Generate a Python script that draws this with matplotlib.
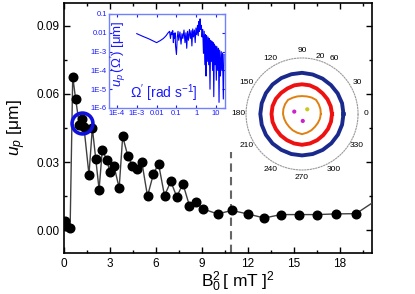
import matplotlib
matplotlib.use("Agg")
import matplotlib.pyplot as plt
import numpy as np
from matplotlib.ticker import MultipleLocator, FixedLocator, NullLocator

plt.rcParams["font.family"] = ["Liberation Sans", "DejaVu Sans"]
plt.rcParams["mathtext.fontset"] = "custom"
plt.rcParams["mathtext.rm"] = "Liberation Sans"
plt.rcParams["mathtext.it"] = "Liberation Sans:italic"

# main series: u_p vs B0^2
b2 = [0.05, 0.15, 0.4, 0.57, 0.76, 1.0, 1.15, 1.3, 1.63, 1.85, 2.07, 2.29, 2.5,
      2.79, 3.0, 3.27, 3.6, 3.83, 4.16, 4.47, 4.77, 5.08, 5.45, 5.84, 6.17,
      6.56, 6.97, 7.36, 7.76, 8.19, 8.63, 9.06, 10.02, 10.96, 11.98, 13.07,
      14.16, 15.32, 16.5, 17.78, 19.06, 21.0]
u_p = [0.004, 0.002, 0.001, 0.0676, 0.0577, 0.0465, 0.049, 0.0455, 0.0245,
       0.045, 0.0315, 0.0179, 0.0354, 0.031, 0.0255, 0.0281, 0.0186, 0.0413,
       0.0328, 0.0284, 0.0271, 0.030, 0.015, 0.0249, 0.0292, 0.0152, 0.0215,
       0.0147, 0.0205, 0.0107, 0.0123, 0.0094, 0.0072, 0.0087, 0.0072, 0.0054,
       0.0069, 0.0069, 0.0069, 0.0072, 0.0073, 0.016]
threshold_b2 = 10.9
threshold_top = 0.0346

# inset spectrum
omega = [0.001, 0.002, 0.004, 0.007, 0.01, 0.015, 0.022, 0.03, 0.038, 0.045,
         0.05, 0.055, 0.06, 0.065, 0.07, 0.075, 0.08, 0.085, 0.09, 0.1, 0.11,
         0.12, 0.13, 0.15, 0.17, 0.19, 0.21, 0.24, 0.27, 0.3, 0.33, 0.36, 0.4,
         0.45, 0.5, 0.55, 0.6, 0.66, 0.72, 0.8, 0.88, 0.96, 1.05, 1.15, 1.25,
         1.35, 1.45, 1.55, 1.65, 1.8, 1.95, 2.1, 2.3, 2.5, 2.7, 2.9, 3.1, 3.3,
         3.6, 3.9, 4.2, 4.5, 4.9, 5.3, 5.7, 6.1, 6.6, 7.1, 7.6, 8.2, 8.8, 9.5,
         10.2, 11, 12, 13, 14, 15, 16.5, 18, 19.5, 21, 23, 25]
spec = [9e-3, 6.5e-3, 4.8e-3, 3.6e-3, 3e-3, 3.8e-3, 5e-3, 7e-3, 1e-2, 1.2e-2,
        5e-3, 1.1e-2, 8e-3, 1.3e-2, 3e-3, 9e-3, 5e-3, 1e-2, 2e-3, 7e-4, 6e-3,
        1.2e-2, 4e-3, 1.1e-2, 2.5e-3, 9e-3, 5e-3, 1.4e-2, 3e-3, 1e-2, 1.5e-3,
        1.2e-2, 4e-3, 1.5e-2, 5e-3, 1.3e-2, 2e-3, 1.6e-2, 6e-3, 1.4e-2, 3e-3,
        1.8e-2, 8e-3, 2.5e-2, 7e-3, 4e-2, 1.2e-2, 5.5e-2, 1.5e-2, 2.5e-2, 6e-3,
        1.5e-2, 8e-4, 1.2e-2, 2e-4, 8e-3, 5e-5, 7e-3, 3e-4, 6e-3, 2e-4, 5e-3,
        1e-5, 4e-3, 3e-4, 3.5e-3, 1e-4, 3e-3, 4e-6, 2.5e-3, 2e-4, 2e-3, 3e-5,
        1.8e-3, 1e-4, 1.5e-3, 2e-6, 1.2e-3, 5e-5, 1e-3, 1e-4, 8e-4, 3e-6, 7e-4]
omega_ticks = [1e-4, 1e-3, 1e-2, 1e-1, 1, 10]
omega_labels = ["1E-4", "1E-3", "0.01", "0.1", "1", "10"]
spec_ticks = [1e-6, 1e-5, 1e-4, 1e-3, 1e-2, 1e-1]
spec_labels = ["1E-6", "1E-5", "1E-4", "1E-3", "0.01", "0.1"]

# polar inset: orbits
theta_deg = [0, 15, 30, 45, 60, 75, 90, 105, 120, 135, 150, 165, 180, 195,
             210, 225, 240, 255, 270, 285, 300, 315, 330, 345]
r_navy = [14.8, 14.8, 14.7, 14.6, 14.6, 14.6, 14.7, 14.7, 14.8, 14.9, 14.9,
          14.9, 14.9, 14.9, 14.9, 14.9, 14.8, 14.8, 14.8, 14.8, 14.8, 14.8,
          14.8, 14.8]
r_red = [10.7, 10.6, 10.5, 10.4, 10.5, 10.6, 10.6, 10.6, 10.5, 10.6, 10.8,
         10.9, 10.9, 10.9, 10.8, 10.8, 10.8, 10.9, 11.0, 10.9, 10.8, 10.7,
         10.7, 10.7]
r_orange = [6.7, 6.8, 6.9, 7.1, 6.8, 6.5, 6.4, 6.5, 6.7, 7.1, 7.0, 6.9, 6.8,
            6.6, 6.5, 6.5, 6.7, 6.9, 7.2, 6.9, 6.7, 6.5, 6.5, 6.6]
dots_theta = [163, 276, 42]
dots_r = [2.9, 2.5, 2.5]
dots_color = ["#cc22cc", "#cc22cc", "#c8c820"]
polar_labels = ["0", "30", "60", "90", "120", "150", "180", "210", "240",
                "270", "300", "330"]

fig = plt.figure(figsize=(4.15, 2.94), dpi=100)
ax = fig.add_axes([0.1542, 0.1395, 0.7422, 0.8503])
ax.plot(b2, u_p, color="#404040", lw=1.0, marker="o", ms=6.2,
        mfc="black", mec="black", zorder=3)
ax.vlines(threshold_b2, -0.01, threshold_top, colors="#666666",
          linestyles=(0, (4, 2.5)), lw=1.5, zorder=2)

# blue ring around the cluster near B0^2 ~ 1
sel = [(x, y) for x, y in zip(b2, u_p) if 0.9 < x < 1.4]
cx = np.mean([s[0] for s in sel])
cy = np.mean([s[1] for s in sel])
ax.plot(cx, cy, marker="o", ms=15, mfc="none", mec="#1010dd", mew=2.6,
        zorder=4)

ax.set_xlim(0, 20.1)
ax.set_ylim(-0.01, 0.1)
ax.xaxis.set_major_locator(MultipleLocator(3))
ax.xaxis.set_minor_locator(MultipleLocator(1.5))
ax.yaxis.set_major_locator(FixedLocator([0, 0.03, 0.06, 0.09]))
ax.yaxis.set_minor_locator(MultipleLocator(0.015))
ax.set_yticklabels(["0.00", "0.03", "0.06", "0.09"])
ax.tick_params(which="both", direction="in", top=True, right=True,
               labelsize=8.5, width=1)
ax.tick_params(which="major", length=4)
ax.tick_params(which="minor", length=2.5)
for sp in ax.spines.values():
    sp.set_linewidth(1.2)
ax.set_ylabel(r"$u_p$ [μm]", fontsize=12.5, labelpad=6)
fig.text(238 / 415, 1 - 282 / 294, r"$\mathrm{B}_0^2\,[\ \mathrm{mT}\ ]^2$",
         fontsize=12.5, ha="center", va="center")

# spectrum inset
blue = "#1a1aff"
axi = fig.add_axes([0.2627, 0.6327, 0.2795, 0.3197])
axi.loglog(omega, spec, color="#0000ff", lw=0.8)
axi.set_xlim(4e-5, 28)
axi.set_ylim(1e-6, 0.1)
axi.xaxis.set_major_locator(FixedLocator(omega_ticks))
axi.xaxis.set_minor_locator(NullLocator())
axi.set_xticklabels(omega_labels)
axi.yaxis.set_major_locator(FixedLocator(spec_ticks))
axi.yaxis.set_minor_locator(NullLocator())
axi.set_yticklabels(spec_labels)
axi.tick_params(direction="in", top=True, right=True, labelsize=5.5,
                colors=blue, length=2.5, pad=1.5)
for sp in axi.spines.values():
    sp.set_color("#7080ff")
    sp.set_linewidth(1.0)
axi.text(0.08, 0.58, r"$u_p\,(\Omega^{\prime})$ [μm]", transform=axi.transAxes,
         rotation=90, ha="center", va="center", color=blue, fontsize=9.5)
axi.text(0.474, 0.16, r"$\Omega^{\prime}$ [rad s$^{-1}$]",
         transform=axi.transAxes, ha="center", va="center", color=blue,
         fontsize=10)

# polar inset
axp = fig.add_axes([0.5928, 0.4218, 0.270, 0.381], projection="polar")
axp.patch.set_alpha(0)
th = np.deg2rad(theta_deg + [theta_deg[0]])
axp.plot(th, r_navy + [r_navy[0]], color="#1a2a8c", lw=2.8)
axp.plot(th, r_red + [r_red[0]], color="#ee1111", lw=2.8)
axp.plot(th, r_orange + [r_orange[0]], color="#e08010", lw=1.4)
axp.scatter(np.deg2rad(dots_theta), dots_r, c=dots_color, s=4, zorder=5)
axp.set_ylim(0, 20)
axp.set_yticks([20])
axp.set_yticklabels(["20"])
axp.set_rlabel_position(76)
axp.set_xticks(np.deg2rad(np.arange(0, 360, 30)))
axp.set_xticklabels(polar_labels)
axp.tick_params(labelsize=6, pad=-5)
axp.grid(False)
axp.spines["polar"].set_linestyle((0, (1, 1.5)))
axp.spines["polar"].set_color("#999999")
axp.spines["polar"].set_linewidth(0.8)

fig.savefig("out.png", dpi=100)
